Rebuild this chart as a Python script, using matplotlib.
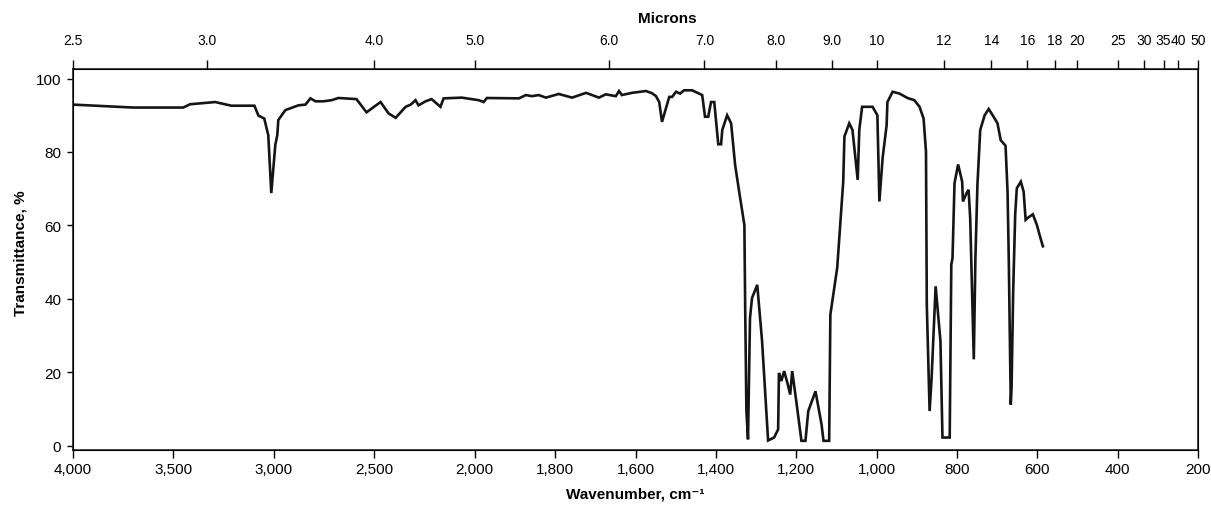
import matplotlib

matplotlib.use("Agg")
import matplotlib.pyplot as plt
import numpy as np

plt.rcParams["font.family"] = ["Liberation Sans", "DejaVu Sans"]

# spectrum (wavenumber in cm-1, transmittance in %)
wavenumber = [
    4000, 3701, 3451, 3417, 3292, 3212, 3097, 3077, 3048, 3028, 3013, 2993, 2983, 2978,
    2943, 2878, 2843, 2818, 2793, 2753, 2713, 2679, 2589, 2539, 2469, 2429, 2394, 2344,
    2319, 2295, 2280, 2245, 2215, 2171, 2155, 2065, 1990, 1978, 1970, 1890, 1873, 1858,
    1841, 1823, 1791, 1758, 1723, 1691, 1674, 1649, 1641, 1634, 1609, 1574, 1559, 1549,
    1541, 1534, 1516, 1509, 1499, 1489, 1479, 1459, 1434, 1427, 1419, 1412, 1404, 1394,
    1387, 1384, 1372, 1362, 1352, 1342, 1329, 1327, 1324, 1320, 1315, 1310, 1297, 1285,
    1270, 1255, 1245, 1243, 1237, 1230, 1222, 1215, 1210, 1200, 1187, 1177, 1170, 1152,
    1137, 1132, 1118, 1115, 1098, 1083, 1080, 1068, 1060, 1047, 1043, 1036, 1010, 998,
    993, 985, 975, 973, 960, 943, 923, 906, 893, 883, 877, 875, 868, 863, 853, 841, 836,
    818, 814, 811, 806, 797, 787, 785, 776, 771, 767, 758, 754, 749, 742, 731, 721, 711,
    699, 691, 679, 674, 671, 666, 664, 660, 655, 651, 641, 634, 629, 623, 611, 601, 592,
    586,
]
transmittance = [
    92.9, 92.1, 92.1, 93.0, 93.6, 92.6, 92.6, 89.9, 89.1, 84.6, 68.8, 81.9, 84.6, 88.7,
    91.4, 92.7, 92.9, 94.6, 93.8, 93.8, 94.1, 94.7, 94.4, 90.8, 93.6, 90.5, 89.3, 92.3,
    92.9, 94.1, 92.7, 93.8, 94.4, 92.3, 94.6, 94.8, 94.1, 93.6, 94.7, 94.6, 95.5, 95.2,
    95.5, 94.8, 95.8, 94.8, 96.1, 94.8, 95.7, 95.2, 96.6, 95.5, 96.1, 96.6, 96.0, 95.2,
    93.6, 88.2, 95.0, 95.0, 96.4, 95.9, 96.8, 96.8, 95.5, 89.6, 89.6, 93.6, 93.6, 82.1,
    82.1, 86.0, 90.0, 87.8, 76.4, 69.2, 60.1, 37.5, 9.5, 1.7, 34.8, 40.2, 43.8, 28.5,
    1.4, 2.2, 4.4, 19.8, 17.6, 20.3, 17.1, 13.9, 20.3, 12.2, 1.3, 1.3, 9.4, 14.8,
    5.8, 1.3, 1.3, 35.7, 48.4, 71.9, 84.2, 87.8, 86.0, 72.4, 86.0, 92.3, 92.3, 90.0,
    66.5, 78.3, 87.3, 93.6, 96.4, 95.9, 94.7, 94.1, 92.3, 89.1, 80.1, 38.4, 9.4, 18.5,
    43.4, 28.4, 2.2, 2.2, 49.3, 51.1, 71.5, 76.6, 71.9, 66.5, 68.8, 69.7, 62.0, 23.5,
    51.1, 71.0, 86.0, 90.0, 91.7, 90.0, 87.8, 83.2, 81.7, 69.2, 51.1, 11.2, 15.8, 42.0,
    62.9, 70.1, 71.9, 69.2, 61.5, 62.1, 63.0, 60.1, 56.5, 54.3,
]

wn_ticks = [4000, 3500, 3000, 2500, 2000, 1800, 1600, 1400, 1200, 1000, 800, 600, 400, 200]
micron_ticks = [2.5, 3.0, 4.0, 5.0, 6.0, 7.0, 8.0, 9.0, 10, 12, 14, 16, 18, 20, 25, 30, 35, 40, 50]
micron_labels = ["2.5", "3.0", "4.0", "5.0", "6.0", "7.0", "8.0", "9.0", "10", "12", "14",
                 "16", "18", "20", "25", "30", "35", "40", "50"]
t_ticks = [0, 20, 40, 60, 80, 100]


# chart paper doubles the scale below 2000 cm-1
def forward(w):
    w = np.asarray(w, dtype=float)
    return np.where(w >= 2000, w, 2 * w - 2000)


def inverse(u):
    u = np.asarray(u, dtype=float)
    return np.where(u >= 2000, u, (u + 2000) / 2)


W, H = 1211, 506
fig = plt.figure(figsize=(W / 100, H / 100), dpi=100)
ax = fig.add_axes([73 / W, 55 / H, 1125 / W, 381 / H])
ax.set_xscale("function", functions=(forward, inverse))
ax.set_xlim(4000, 200)
ax.set_ylim(-1.2, 102.6)

ax.plot(wavenumber, transmittance, color="#151515", lw=1.9, solid_joinstyle="miter")

ax.set_xticks(wn_ticks, labels=[f"{w:,}" for w in wn_ticks])
ax.set_yticks(t_ticks)
ax.tick_params(axis="x", direction="out", length=6, width=1, labelsize=11, pad=3)
ax.tick_params(axis="y", direction="out", length=4.5, width=1, labelsize=11, pad=4)
for sp in ax.spines.values():
    sp.set_linewidth(1.1)
    sp.set_color("#151515")

top = ax.twiny()
top.set_xscale("function", functions=(forward, inverse))
top.set_xlim(4000, 200)
top.set_xticks([1e4 / m for m in micron_ticks], labels=micron_labels)
top.tick_params(axis="x", direction="out", length=6.5, width=1, labelsize=10, pad=9)

top.set_xlabel("Microns", fontsize=11, fontweight="bold")
top.xaxis.set_label_coords((667 - 73) / 1125, (506 - 23 - 55) / 381)
ax.set_xlabel("Wavenumber, cm⁻¹", fontsize=11, fontweight="bold")
ax.xaxis.set_label_coords(0.5, -0.095)
ax.set_ylabel("Transmittance, %", fontsize=11, fontweight="bold")
ax.yaxis.set_label_coords(-0.04, 0.52)

fig.savefig("out.png", dpi=100)
